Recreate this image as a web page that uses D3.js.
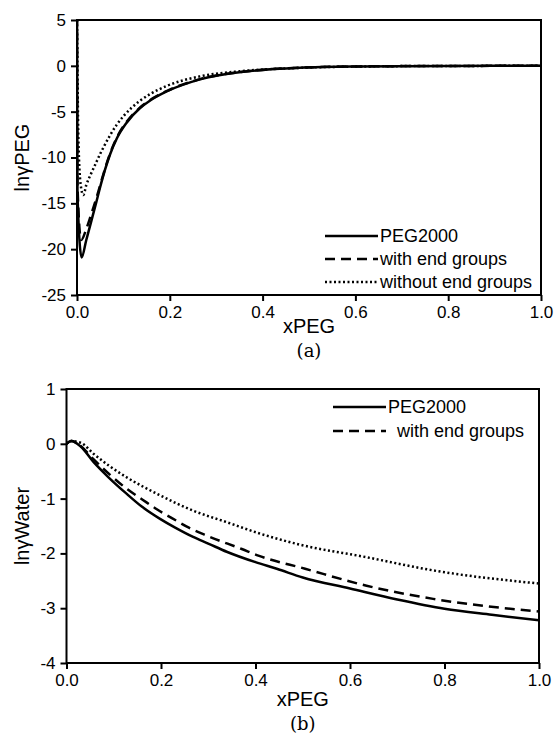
<!DOCTYPE html>
<html>
<head>
<meta charset="utf-8">
<script src="https://d3js.org/d3.v7.min.js"></script>
<style>
  body { margin: 0; background: #fff; }
  text { font-family: "Liberation Sans", Arial, sans-serif; fill: #000; }
  .axis path, .axis line { stroke: #000; stroke-width: 2; }
</style>
</head>
<body>
<script>
// ---- data ----
// panel (a): ln gamma PEG vs xPEG
var xA_peg   = [0, 0.001, 0.010, 0.020, 0.030, 0.042, 0.050, 0.071, 0.086, 0.107, 0.136, 0.157, 0.193, 0.265, 0.373, 0.48, 0.6, 0.8, 1.0];
var yA_peg   = [5.5, -14, -20.9, -19.0, -17.1, -14.8, -13.2, -9.7, -7.9, -6.2, -4.6, -3.8, -2.8, -1.48, -0.57, -0.2, -0.07, -0.01, 0];
var xA_with  = [0, 0.001, 0.009, 0.020, 0.030, 0.042, 0.050, 0.071, 0.086, 0.107, 0.136, 0.157, 0.193, 0.265, 0.373, 0.48, 0.6, 0.8, 1.0];
var yA_with  = [5.5, -13, -19.0, -17.8, -16.3, -14.4, -13.0, -9.6, -7.8, -6.1, -4.55, -3.75, -2.76, -1.45, -0.56, -0.2, -0.07, -0.01, 0];
var xA_wout  = [0, 0.003, 0.008, 0.0136, 0.020, 0.030, 0.040, 0.050, 0.057, 0.086, 0.100, 0.136, 0.157, 0.193, 0.265, 0.35, 0.48, 0.6, 0.8, 1.0];
var yA_wout  = [5.5, -8, -13, -14.1, -13.0, -11.8, -10.7, -9.6, -8.9, -6.4, -5.5, -3.8, -3.1, -2.2, -1.15, -0.6, -0.22, -0.08, -0.01, 0];

// panel (b): ln gamma Water vs xPEG
var xB_peg   = [0, 0.01, 0.03, 0.057, 0.09, 0.127, 0.16, 0.198, 0.23, 0.268, 0.30, 0.339, 0.40, 0.445, 0.50, 0.60, 0.70, 0.80, 0.90, 1.0];
var yB_peg   = [0, 0.05, -0.05, -0.33, -0.62, -0.91, -1.15, -1.37, -1.53, -1.70, -1.82, -1.97, -2.16, -2.28, -2.44, -2.64, -2.84, -3.01, -3.12, -3.22];
var xB_with  = [0, 0.01, 0.03, 0.057, 0.09, 0.129, 0.161, 0.192, 0.224, 0.259, 0.295, 0.371, 0.406, 0.505, 0.635, 0.776, 1.0];
var yB_with  = [0, 0.05, -0.04, -0.28, -0.55, -0.83, -1.02, -1.20, -1.36, -1.53, -1.67, -1.92, -2.04, -2.28, -2.59, -2.83, -3.06];
var xB_wout  = [0, 0.01, 0.03, 0.057, 0.09, 0.127, 0.198, 0.268, 0.339, 0.41, 0.494, 0.635, 0.776, 1.0];
var yB_wout  = [0, 0.05, 0.02, -0.18, -0.40, -0.61, -0.94, -1.22, -1.43, -1.64, -1.84, -2.07, -2.31, -2.55];

var xTicks = [0, 0.2, 0.4, 0.6, 0.8, 1.0];
var yTicksA = [5, 0, -5, -10, -15, -20, -25];
var yTicksB = [1, 0, -1, -2, -3, -4];

var seriesNames = ["PEG2000", "with end groups", "without end groups"];
var dashes = [null, "10,6", "2,2.5"];

function zip(xs, ys) { return xs.map(function (x, i) { return [x, ys[i]]; }); }

var svg = d3.select("body").append("svg")
    .attr("width", 555)
    .attr("height", 736);

function panel(cfg) {
  var x = d3.scaleLinear().domain([0, 1]).range([cfg.left, cfg.right]);
  var y = d3.scaleLinear().domain(cfg.yDomain).range([cfg.bottom, cfg.top]);
  var g = svg.append("g");

  var clipId = "clip" + cfg.id;
  g.append("clipPath").attr("id", clipId)
    .append("rect")
      .attr("x", cfg.left).attr("y", cfg.top)
      .attr("width", cfg.right - cfg.left).attr("height", cfg.bottom - cfg.top);

  var line = d3.line()
      .x(function (d) { return x(d[0]); })
      .y(function (d) { return y(d[1]); })
      .curve(d3.curveMonotoneX);

  cfg.series.forEach(function (s, i) {
    g.append("path")
      .datum(s)
      .attr("clip-path", "url(#" + clipId + ")")
      .attr("d", line)
      .attr("fill", "none")
      .attr("stroke", "#000")
      .attr("stroke-width", 2.5)
      .attr("stroke-dasharray", dashes[i]);
  });

  // frame
  g.append("rect")
    .attr("x", cfg.left).attr("y", cfg.top)
    .attr("width", cfg.right - cfg.left).attr("height", cfg.bottom - cfg.top)
    .attr("fill", "none").attr("stroke", "#000").attr("stroke-width", 2);

  var xAxis = g.append("g").attr("class", "axis")
    .attr("transform", "translate(0," + cfg.bottom + ")")
    .call(d3.axisBottom(x).tickValues(xTicks).tickFormat(d3.format(".1f")).tickSize(6).tickSizeOuter(0).tickPadding(5));
  xAxis.selectAll("text").style("font-size", "17px");

  var yAxis = g.append("g").attr("class", "axis")
    .attr("transform", "translate(" + cfg.left + ",0)")
    .call(d3.axisLeft(y).tickValues(cfg.yTicks).tickFormat(function (d) { return String(d); }).tickSize(6).tickSizeOuter(0).tickPadding(5));
  yAxis.selectAll("text").style("font-size", "17px");
  xAxis.select(".domain").remove();
  yAxis.select(".domain").remove();

  // axis titles
  g.append("text")
    .attr("x", (cfg.left + cfg.right) / 2)
    .attr("y", cfg.xTitleY)
    .attr("text-anchor", "middle")
    .style("font-size", "20px")
    .text("xPEG");

  g.append("text")
    .attr("transform", "translate(" + cfg.yTitleX + "," + ((cfg.top + cfg.bottom) / 2) + ") rotate(-90)")
    .attr("text-anchor", "middle")
    .attr("dy", "0.35em")
    .style("font-size", "20px")
    .text(cfg.yTitle);

  g.append("text")
    .attr("x", (cfg.left + cfg.right) / 2)
    .attr("y", cfg.captionY)
    .attr("text-anchor", "middle")
    .style("font-family", "'DejaVu Serif', serif")
    .style("font-size", "18px")
    .text(cfg.caption);

  // legend
  cfg.legend.forEach(function (l, i) {
    g.append("line")
      .attr("x1", l.x1).attr("x2", l.x2)
      .attr("y1", l.y).attr("y2", l.y)
      .attr("stroke", "#000").attr("stroke-width", 2.5)
      .attr("stroke-dasharray", dashes[i]);
    g.append("text")
      .attr("x", l.tx).attr("y", l.y)
      .attr("dy", "0.35em")
      .style("font-size", "18px")
      .text(seriesNames[i]);
  });
}

panel({
  id: "a",
  left: 77, right: 541, top: 20, bottom: 295,
  yDomain: [-25, 5], yTicks: yTicksA,
  yTitle: "ln\u03b3PEG", yTitleX: 22,
  xTitleY: 333, captionY: 357, caption: "(a)",
  series: [zip(xA_peg, yA_peg), zip(xA_with, yA_with), zip(xA_wout, yA_wout)],
  legend: [
    { x1: 325, x2: 378, tx: 380, y: 236 },
    { x1: 325, x2: 378, tx: 380, y: 259 },
    { x1: 325, x2: 378, tx: 380, y: 282 }
  ]
});

panel({
  id: "b",
  left: 66.5, right: 539, top: 389, bottom: 663,
  yDomain: [-4, 1], yTicks: yTicksB,
  yTitle: "ln\u03b3Water", yTitleX: 22,
  xTitleY: 706, captionY: 730, caption: "(b)",
  series: [zip(xB_peg, yB_peg), zip(xB_with, yB_with), zip(xB_wout, yB_wout)],
  legend: [
    { x1: 333, x2: 386, tx: 388, y: 407 },
    { x1: 333, x2: 386, tx: 397, y: 431 }
  ]
});
</script>
</body>
</html>
